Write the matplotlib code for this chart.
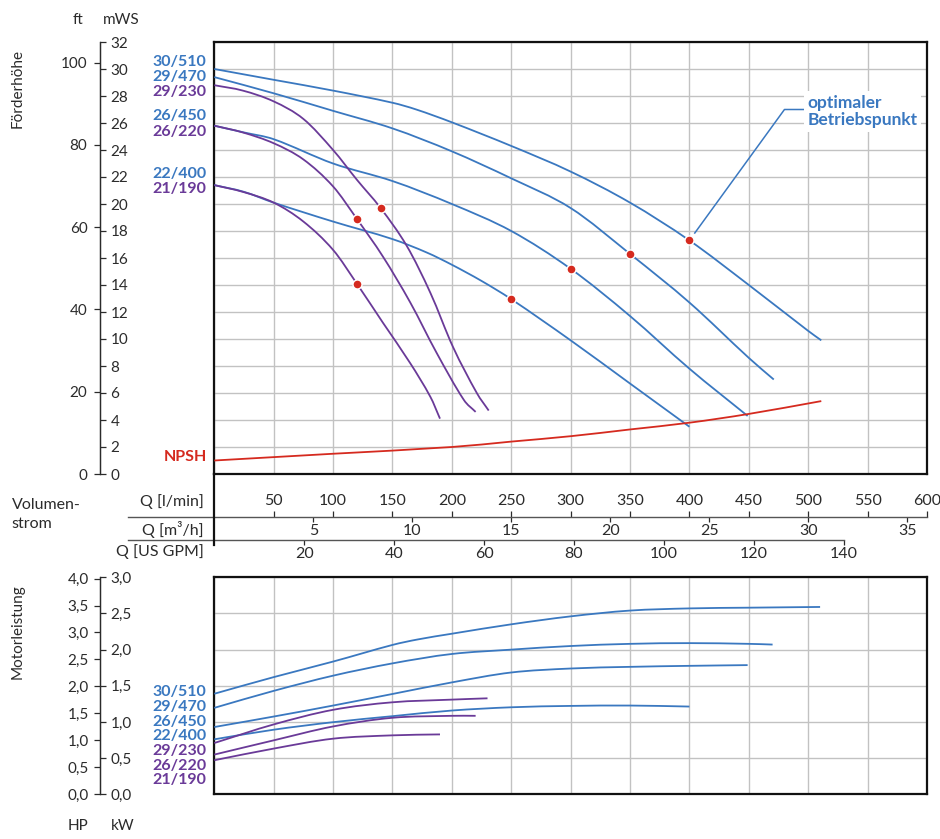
import matplotlib
matplotlib.use('Agg')
import matplotlib.pyplot as plt
import numpy as np
from matplotlib.ticker import FuncFormatter
from matplotlib.path import Path
from matplotlib.patches import PathPatch

plt.rcParams['font.family'] = ['Lato', 'DejaVu Sans']

# ---------------- data ----------------
pumps = ['30/510', '29/470', '26/450', '22/400', '29/230', '26/220', '21/190']
pump_kind = ['b', 'b', 'b', 'b', 'p', 'p', 'p']

# head curves: Q [l/min], H [mWS]
q_30_510 = [0, 50, 100, 150, 170, 200, 250, 300, 350, 400, 450, 500, 511]
h_30_510 = [30.0, 29.2, 28.4, 27.5, 27.0, 26.05, 24.3, 22.4, 20.1, 17.3, 14.0, 10.6, 9.9]
q_29_470 = [0, 50, 100, 150, 200, 250, 300, 350, 400, 450, 471]
h_29_470 = [29.4, 28.2, 26.9, 25.6, 23.9, 21.9, 19.7, 16.3, 12.7, 8.6, 7.0]
q_26_450 = [0, 25, 50, 100, 150, 200, 250, 300, 350, 400, 449]
h_26_450 = [25.8, 25.3, 24.8, 23.0, 21.7, 20.0, 18.0, 15.2, 11.7, 7.8, 4.3]
q_22_400 = [0, 25, 50, 100, 150, 179, 200, 225, 250, 300, 350, 400]
h_22_400 = [21.4, 20.9, 20.1, 18.7, 17.4, 16.4, 15.5, 14.3, 12.95, 9.9, 6.7, 3.5]
q_29_230 = [0, 24, 50, 75, 100, 120, 140, 162, 182, 201, 221, 231]
h_29_230 = [28.8, 28.4, 27.6, 26.3, 24.0, 21.8, 19.7, 16.9, 13.4, 9.4, 6.0, 4.7]
q_26_220 = [0, 24, 50, 75, 100, 120, 142, 165, 187, 210, 220]
h_26_220 = [25.8, 25.3, 24.5, 23.3, 21.3, 18.9, 16.1, 12.7, 9.0, 5.5, 4.6]
q_21_190 = [0, 24, 50, 75, 100, 120, 142, 165, 182, 190]
h_21_190 = [21.4, 20.9, 20.1, 18.7, 16.6, 14.1, 11.2, 8.2, 5.7, 4.1]

q_npsh = [0, 100, 200, 250, 300, 350, 400, 450, 511]
h_npsh = [1.0, 1.5, 2.0, 2.4, 2.8, 3.3, 3.8, 4.45, 5.4]

# best efficiency points
bep_q = [400, 350, 300, 250, 140, 120, 120]
bep_h = [17.3, 16.3, 15.2, 12.95, 19.7, 18.9, 14.1]

# power curves: Q [l/min], P [kW]
pq_30_510 = [0, 50, 100, 150, 171, 200, 250, 300, 350, 400, 450, 510]
pp_30_510 = [1.39, 1.62, 1.835, 2.065, 2.14, 2.22, 2.35, 2.46, 2.54, 2.57, 2.58, 2.59]
pq_29_470 = [0, 50, 100, 150, 200, 250, 300, 350, 400, 450, 470]
pp_29_470 = [1.195, 1.43, 1.64, 1.81, 1.94, 2.0, 2.05, 2.08, 2.09, 2.08, 2.07]
pq_26_450 = [0, 50, 100, 150, 200, 250, 300, 350, 400, 449]
pp_26_450 = [0.93, 1.075, 1.227, 1.387, 1.547, 1.684, 1.739, 1.762, 1.776, 1.786]
pq_22_400 = [0, 50, 100, 150, 200, 250, 300, 350, 400]
pp_22_400 = [0.76, 0.893, 0.997, 1.08, 1.158, 1.203, 1.222, 1.227, 1.213]
pq_29_230 = [0, 50, 100, 150, 200, 230]
pp_29_230 = [0.709, 0.966, 1.168, 1.272, 1.309, 1.327]
pq_26_220 = [0, 50, 100, 150, 200, 220]
pp_26_220 = [0.549, 0.746, 0.938, 1.058, 1.085, 1.085]
pq_21_190 = [0, 50, 100, 150, 190]
pp_21_190 = [0.471, 0.632, 0.769, 0.815, 0.828]

lmin_ticks = [50, 100, 150, 200, 250, 300, 350, 400, 450, 500, 550, 600]
m3h_ticks = [5, 10, 15, 20, 25, 30, 35]
gpm_ticks = [20, 40, 60, 80, 100, 120, 140]
mws_ticks = list(range(0, 33, 2))
ft_ticks = [0, 20, 40, 60, 80, 100]
kw_ticks = [0.0, 0.5, 1.0, 1.5, 2.0, 2.5, 3.0]
hp_ticks = [0.0, 0.5, 1.0, 1.5, 2.0, 2.5, 3.0, 3.5, 4.0]

head_q = [q_30_510, q_29_470, q_26_450, q_22_400, q_29_230, q_26_220, q_21_190]
head_h = [h_30_510, h_29_470, h_26_450, h_22_400, h_29_230, h_26_220, h_21_190]
pow_q = [pq_30_510, pq_29_470, pq_26_450, pq_22_400, pq_29_230, pq_26_220, pq_21_190]
pow_p = [pp_30_510, pp_29_470, pp_26_450, pp_22_400, pp_29_230, pp_26_220, pp_21_190]

# ---------------- style ----------------
BLUE = '#3a78c0'
PURPLE = '#6a3a98'
RED = '#d52a1f'
GRID = '#c2c2c2'
TXT = '#2b2b2b'
col = {'b': BLUE, 'p': PURPLE}

W, H = 940, 839
fig = plt.figure(figsize=(W / 100, H / 100), dpi=100)


def fx(px):
    return px / W


def fy(py):
    return 1 - py / H


def smooth_curve(axis, xs, ys, color, lw=1.3, z=3):
    """Draw a smooth cubic (Bezier) path through the given data points."""
    x = np.asarray(xs, float)
    y = np.asarray(ys, float)
    n = len(x)
    m = np.empty(n)
    m[0] = (y[1] - y[0]) / (x[1] - x[0])
    m[-1] = (y[-1] - y[-2]) / (x[-1] - x[-2])
    for i in range(1, n - 1):
        m[i] = (y[i + 1] - y[i - 1]) / (x[i + 1] - x[i - 1])
    verts = [(x[0], y[0])]
    codes = [Path.MOVETO]
    for i in range(n - 1):
        dx = x[i + 1] - x[i]
        verts += [(x[i] + dx / 3, y[i] + m[i] * dx / 3),
                  (x[i + 1] - dx / 3, y[i + 1] - m[i + 1] * dx / 3),
                  (x[i + 1], y[i + 1])]
        codes += [Path.CURVE4] * 3
    axis.add_patch(PathPatch(Path(verts, codes), facecolor='none', edgecolor=color,
                             lw=lw, zorder=z, capstyle='butt'))


L, R = 214.3, 927.0
SPX = (100 - L) / (R - L)   # axis spine location (axes coords)
comma = FuncFormatter(lambda v, p: f"{v:.1f}".replace('.', ','))

# ---------------- top: head ----------------
ax = fig.add_axes([fx(L), fy(474), (R - L) / W, (474 - 42) / H])
ax.set_xlim(0, 600)
ax.set_ylim(0, 32)
ax.set_xticks(np.arange(0, 601, 50))
ax.set_yticks(np.arange(0, 33, 2))
ax.tick_params(length=0, labelbottom=False, labelleft=False)
ax.grid(True, color=GRID, lw=1.0)
ax.set_axisbelow(True)
for s in ax.spines.values():
    s.set_linewidth(1.6)
    s.set_color('#111111')

for q, h, k in zip(head_q, head_h, pump_kind):
    smooth_curve(ax, q, h, col[k])
smooth_curve(ax, q_npsh, h_npsh, RED)
ax.plot(bep_q, bep_h, 'o', color=RED, ms=6.5, mec='white', mew=1.0, zorder=5)

ax.plot([404.5, 480, 497], [17.85, 27.0, 27.0], color=BLUE, lw=1.1, zorder=4)
ax.text(499.5, 26.85, "optimaler\nBetriebspunkt", ha='left', va='center', color=BLUE,
        fontweight='bold', fontsize=12.5, linespacing=1.15, zorder=6,
        bbox=dict(facecolor='white', edgecolor='none', pad=2.5))

# left scale: ft / mWS
sec_m = ax.secondary_yaxis(SPX)
sec_m.set_alignment('right')
sec_m.set_yticks(mws_ticks)
sec_m.tick_params(direction='out', length=4, width=0.9, colors=TXT, labelsize=11, pad=3.5)
sec_m.spines['right'].set_color(TXT)
sec_m.spines['right'].set_linewidth(0.9)

sec_f = ax.secondary_yaxis(SPX, functions=(lambda m: m / 0.3048, lambda f: f * 0.3048))
sec_f.set_yticks(ft_ticks)
sec_f.tick_params(direction='out', length=4, width=0.9, colors=TXT, labelsize=11, pad=5)
sec_f.spines['left'].set_color(TXT)
sec_f.spines['left'].set_linewidth(0.9)

# flow scales
Y1 = (474 - 516.7) / 432
Y2 = (474 - 540.0) / 432
XL = (128.3 - L) / (R - L)

sec_l = ax.secondary_xaxis(Y1)
sec_l.set_alignment('top')
sec_l.set_xticks(lmin_ticks)
sec_l.tick_params(direction='out', length=4.3, width=0.9, colors=TXT, labelsize=11.5, pad=2.2)
for s in sec_l.spines.values():
    s.set_visible(False)

sec_3 = ax.secondary_xaxis(Y1, functions=(lambda q: q * 0.06, lambda m: m / 0.06))
sec_3.set_xticks(m3h_ticks)
sec_3.tick_params(direction='out', length=3.8, width=0.9, colors=TXT, labelsize=11.5, pad=1.5)
for s in sec_3.spines.values():
    s.set_visible(False)

sec_g = ax.secondary_xaxis(Y2, functions=(lambda q: q / 3.785411784, lambda g: g * 3.785411784))
sec_g.set_xticks(gpm_ticks)
sec_g.tick_params(direction='out', length=3.8, width=0.9, colors=TXT, labelsize=11.5, pad=1.5)
for s in sec_g.spines.values():
    s.set_visible(False)

ax.plot([XL, 1.0], [Y1, Y1], transform=ax.transAxes, clip_on=False, color='#555555', lw=1.0)
ax.plot([XL, 530 / 600], [Y2, Y2], transform=ax.transAxes, clip_on=False, color='#555555', lw=1.0)
ax.plot([0, 0], [0, (474 - 545) / 432], transform=ax.transAxes, clip_on=False, color='#111111', lw=1.6)

# ---------------- bottom: power ----------------
ax2 = fig.add_axes([fx(L), fy(794.3), (R - L) / W, (794.3 - 577.3) / H])
ax2.set_xlim(0, 600)
ax2.set_ylim(0, 3.0)
ax2.set_xticks(np.arange(0, 601, 50))
ax2.set_yticks(np.arange(0, 3.01, 0.5))
ax2.tick_params(length=0, labelbottom=False, labelleft=False)
ax2.grid(True, color=GRID, lw=1.0)
ax2.set_axisbelow(True)
for s in ax2.spines.values():
    s.set_linewidth(1.6)
    s.set_color('#111111')

for q, p, k in zip(pow_q, pow_p, pump_kind):
    smooth_curve(ax2, q, p, col[k])

sec_kw = ax2.secondary_yaxis(SPX)
sec_kw.set_alignment('right')
sec_kw.set_yticks(kw_ticks)
sec_kw.yaxis.set_major_formatter(comma)
sec_kw.tick_params(direction='out', length=4, width=0.9, colors=TXT, labelsize=11, pad=3.5)
sec_kw.spines['right'].set_color(TXT)
sec_kw.spines['right'].set_linewidth(0.9)

sec_hp = ax2.secondary_yaxis(SPX, functions=(lambda k: k / 0.7457, lambda h: h * 0.7457))
sec_hp.set_yticks(hp_ticks)
sec_hp.yaxis.set_major_formatter(comma)
sec_hp.tick_params(direction='out', length=4, width=0.9, colors=TXT, labelsize=11, pad=4)
sec_hp.spines['left'].set_color(TXT)
sec_hp.spines['left'].set_linewidth(0.9)

# ---------------- texts ----------------
fig.text(fx(78), fy(20), 'ft', ha='center', va='center', fontsize=11, color=TXT)
fig.text(fx(121), fy(20), 'mWS', ha='center', va='center', fontsize=11, color=TXT)
fig.text(fx(18), fy(89), 'Förderhöhe', ha='center', va='center', rotation=90, fontsize=11, color=TXT)
fig.text(fx(11.7), fy(505), 'Volumen-', ha='left', va='center', fontsize=11.5, color=TXT)
fig.text(fx(11.7), fy(524.3), 'strom', ha='left', va='center', fontsize=11.5, color=TXT)
fig.text(fx(204), fy(501.7), 'Q [l/min]', ha='right', va='center', fontsize=11.5, color=TXT)
fig.text(fx(204), fy(530), 'Q [m³/h]', ha='right', va='center', fontsize=11.5, color=TXT)
fig.text(fx(204), fy(551.7), 'Q [US GPM]', ha='right', va='center', fontsize=11.5, color=TXT)
fig.text(fx(18), fy(632), 'Motorleistung', ha='center', va='center', rotation=90, fontsize=11, color=TXT)
fig.text(fx(78), fy(826), 'HP', ha='center', va='center', fontsize=11, color=TXT)
fig.text(fx(123), fy(826), 'kW', ha='center', va='center', fontsize=11, color=TXT)

top_order = ['30/510', '29/470', '29/230', '26/450', '26/220', '22/400', '21/190']
top_y = [62.3, 77.3, 92.3, 115.7, 132.3, 174, 189]
for name, py in zip(top_order, top_y):
    k = pump_kind[pumps.index(name)]
    fig.text(fx(206.7), fy(py), name, ha='right', va='center', fontsize=11.5,
             fontweight='bold', color=col[k])
fig.text(fx(206.7), fy(456.7), 'NPSH', ha='right', va='center', fontsize=11.5,
         fontweight='bold', color=RED)

bot_y = [692.3, 706.7, 721.7, 736, 751, 765.7, 780]
for name, py, k in zip(pumps, bot_y, pump_kind):
    fig.text(fx(206.7), fy(py), name, ha='right', va='center', fontsize=11.5,
             fontweight='bold', color=col[k])

fig.savefig('out.png', dpi=100, facecolor='white')
